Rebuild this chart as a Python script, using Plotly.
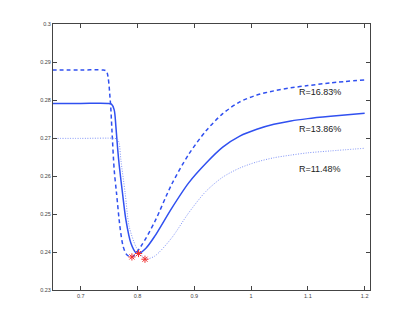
import plotly.graph_objects as go

# Dashed curve (R=16.83%)
x_dash = [0.65, 0.70, 0.738, 0.745, 0.7518, 0.7548, 0.7588, 0.7629, 0.7689, 0.7747, 0.781, 0.79, 0.806,
          0.83, 0.86, 0.89, 0.92, 0.95, 0.98, 1.01, 1.04, 1.07, 1.10, 1.14, 1.2]
y_dash = [0.2879, 0.2879, 0.2879, 0.2876, 0.2800, 0.2721, 0.2616, 0.2555, 0.2467, 0.2414, 0.2393, 0.2387, 0.2415,
          0.2479, 0.2578, 0.2657, 0.2718, 0.2764, 0.2795, 0.2813, 0.2824, 0.2832, 0.2838, 0.2845, 0.2853]

# Solid curve (R=13.86%)
x_solid = [0.65, 0.70, 0.748, 0.754, 0.7588, 0.7618, 0.7646, 0.7676, 0.7735, 0.7795, 0.7883, 0.7971, 0.8017,
           0.8147, 0.83, 0.86, 0.89, 0.92, 0.95, 0.98, 1.01, 1.04, 1.07, 1.10, 1.14, 1.2]
y_solid = [0.2791, 0.2791, 0.2791, 0.2789, 0.2774, 0.2730, 0.2677, 0.2629, 0.2554, 0.2484, 0.2423, 0.2398, 0.2396,
           0.2410, 0.2441, 0.2515, 0.2582, 0.2633, 0.2676, 0.2705, 0.2723, 0.2736, 0.2745, 0.2751, 0.2757, 0.2765]

# Dotted curve (R=11.48%)
x_dot = [0.65, 0.70, 0.760, 0.7646, 0.7676, 0.7706, 0.7782, 0.7852, 0.7971, 0.8087, 0.813, 0.83, 0.86,
         0.89, 0.92, 0.95, 0.98, 1.01, 1.04, 1.07, 1.10, 1.14, 1.2]
y_dot = [0.2699, 0.2699, 0.2699, 0.2697, 0.2686, 0.2642, 0.2554, 0.2467, 0.2414, 0.2388, 0.2381, 0.2389, 0.2437,
         0.2503, 0.2559, 0.2597, 0.2621, 0.2637, 0.2648, 0.2655, 0.2661, 0.2666, 0.2673]

# Minimum markers
x_min = [0.79, 0.8017, 0.813]
y_min = [0.2387, 0.2396, 0.2381]

labels = ["R=16.83%", "R=13.86%", "R=11.48%"]
label_x = [1.121, 1.121, 1.121]
label_y = [0.2820, 0.2724, 0.2618]

x_ticks = [0.7, 0.8, 0.9, 1.0, 1.1, 1.2]
x_tick_text = ["0.7", "0.8", "0.9", "1", "1.1", "1.2"]
y_ticks = [0.23, 0.24, 0.25, 0.26, 0.27, 0.28, 0.29, 0.3]
y_tick_text = ["0.23", "0.24", "0.25", "0.26", "0.27", "0.28", "0.29", "0.3"]

blue = "#3050f0"
fig = go.Figure()
fig.add_trace(go.Scatter(x=x_dash, y=y_dash, mode="lines",
                         line=dict(color=blue, width=1.5, dash="4px,3px", shape="spline", smoothing=0.8)))
fig.add_trace(go.Scatter(x=x_solid, y=y_solid, mode="lines",
                         line=dict(color=blue, width=1.5, shape="spline", smoothing=0.8)))
fig.add_trace(go.Scatter(x=x_dot, y=y_dot, mode="lines",
                         line=dict(color="#7f93f7", width=1, dash="1px,1.5px", shape="spline", smoothing=0.8)))
fig.add_trace(go.Scatter(x=x_min, y=y_min, mode="markers",
                         marker=dict(symbol="asterisk-open", size=6, color="#f03030",
                                     line=dict(color="#f03030", width=1))))

for t, lx, ly in zip(labels, label_x, label_y):
    fig.add_annotation(x=lx, y=ly, text=t, showarrow=False, xref="x", yref="y",
                       font=dict(family="Liberation Sans, Arial", size=9, color="#222"))

axis_common = dict(showgrid=False, zeroline=False, showline=True, linecolor="#444", linewidth=1,
                   mirror="ticks", ticks="inside", ticklen=4, tickcolor="#444",
                   tickfont=dict(family="Liberation Sans, Arial", size=5.5, color="#444"))
fig.update_xaxes(range=[0.651, 1.2094], tickvals=x_ticks, ticktext=x_tick_text, **axis_common)
fig.update_yaxes(range=[0.23, 0.3], tickvals=y_ticks, ticktext=y_tick_text, **axis_common)

fig.update_layout(width=401, height=319, showlegend=False,
                  margin=dict(l=45, r=39, t=16, b=37),
                  paper_bgcolor="white", plot_bgcolor="white")

fig.write_html("out.html")
